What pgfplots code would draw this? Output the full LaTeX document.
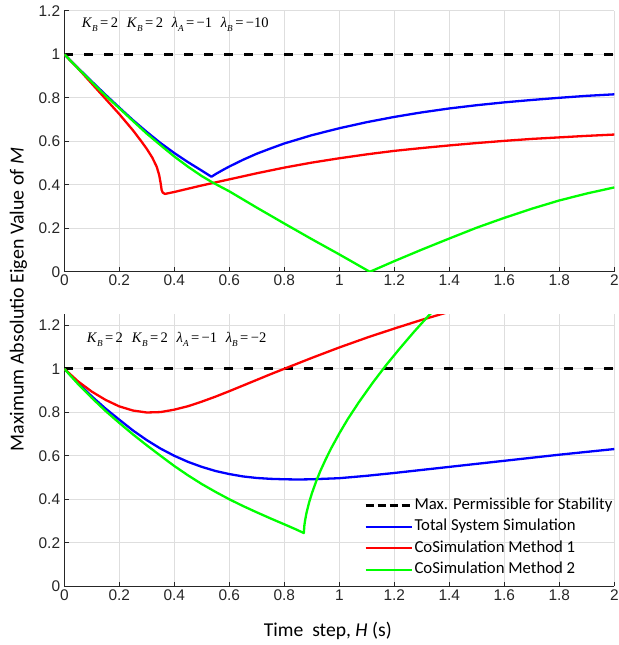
\documentclass[border=0pt]{standalone}
\usepackage{fontspec}
\setmainfont{Carlito}
\newfontfamily\arialf{Liberation Sans}
\newfontfamily\timesf{Liberation Serif}
\usepackage{pgfplots}
\pgfplotsset{compat=1.18}
\definecolor{gridc}{gray}{0.87}
\definecolor{axc}{gray}{0.15}
\definecolor{cblue}{rgb}{0,0,1}
\definecolor{cred}{rgb}{1,0,0}
\definecolor{cgreen}{rgb}{0,1,0}
\newcommand{\subx}[1]{\raisebox{-0.28em}{\fontsize{9.2}{10}\selectfont\itshape #1}}
\newcommand{\ann}[2]{{\timesf\fontsize{14.6}{16}\selectfont
 \textit{K}\subx{B}\,=\,2\hspace{0.6em}\textit{K}\subx{B}\,=\,2\hspace{0.6em}\textit{λ}\subx{A}\,=\,\textminus#1\hspace{0.6em}\textit{λ}\subx{B}\,=\,\textminus#2}}
\pgfplotsset{
 myax/.style={
  scale only axis, width=550bp,
  xmin=0, xmax=2,
  axis x line*=bottom, axis y line*=left,
  axis line style={axc, line width=0.7bp, -},
  tick align=inside,
  major tick length=4.5bp,
  tick style={axc, line width=0.7bp},
  grid=major, major grid style={gridc, line width=0.6bp},
  xtick={0,0.2,0.4,0.6,0.8,1,1.2,1.4,1.6,1.8,2},
  xticklabels={0,0.2,0.4,0.6,0.8,1,1.2,1.4,1.6,1.8,2},
  ytick={0,0.2,0.4,0.6,0.8,1,1.2},
  yticklabels={0,0.2,0.4,0.6,0.8,1,1.2},
  ticklabel style={font=\arialf\fontsize{15.5}{17}\selectfont, text=axc},
  xticklabel style={inner sep=3bp},
  yticklabel style={inner sep=4bp},
 },
 crv/.style={line width=2.3bp, line join=round},
 dsh/.style={black, line width=2.8bp, dash pattern=on 9bp off 11bp},
}
\begin{document}
\begin{tikzpicture}
\path[use as bounding box] (-64.3bp,-58.7bp) rectangle (554.7bp,586.3bp);
% ---------- top axis ----------
\begin{axis}[myax, at={(0bp,314.5bp)}, anchor=south west, height=261bp, ymin=0, ymax=1.2]
\addplot[dsh] coordinates {(0,1) (2,1)};
\addplot[crv, cblue] coordinates {
(0,1.0) (0.05,0.937) (0.1,0.875) (0.15,0.814) (0.2,0.755) (0.25,0.697) (0.3,0.643)
(0.35,0.592) (0.4,0.546) (0.45,0.504) (0.5,0.465) (0.535,0.437) (0.55,0.449) (0.575,0.467)
(0.6,0.484) (0.65,0.515) (0.7,0.543) (0.75,0.567) (0.8,0.59) (0.9,0.628) (1.0,0.66)
(1.1,0.688) (1.2,0.712) (1.3,0.733) (1.4,0.751) (1.5,0.766) (1.6,0.779) (1.7,0.79)
(1.8,0.8) (1.9,0.809) (2.0,0.816)};
\addplot[crv, cred] coordinates {
(0,1.0) (0.05,0.935) (0.1,0.865) (0.15,0.795) (0.2,0.725) (0.25,0.65) (0.28,0.6)
(0.3,0.565) (0.32,0.525) (0.336,0.483) (0.345,0.445) (0.35,0.41) (0.354,0.376)
(0.358,0.364) (0.366,0.358) (0.4,0.367) (0.5,0.397) (0.6,0.425) (0.7,0.453) (0.8,0.479)
(0.9,0.502) (1.0,0.522) (1.1,0.54) (1.2,0.556) (1.3,0.569) (1.4,0.581) (1.5,0.592)
(1.6,0.602) (1.7,0.611) (1.8,0.618) (1.9,0.625) (2.0,0.631)};
\addplot[crv, cgreen] coordinates {
(0,1.0) (0.05,0.935) (0.1,0.872) (0.15,0.81) (0.2,0.752) (0.25,0.693) (0.3,0.635)
(0.35,0.582) (0.4,0.53) (0.45,0.483) (0.5,0.44) (0.54,0.41) (0.6,0.37) (0.7,0.295)
(0.8,0.222) (0.9,0.15) (1.0,0.08) (1.111,0.0) (1.2,0.049) (1.3,0.102) (1.4,0.153)
(1.5,0.203) (1.6,0.248) (1.7,0.29) (1.8,0.328) (1.9,0.36) (2.0,0.388)};
\node[anchor=base west, inner sep=0] at (axis cs:0.063,1.124) {\ann{1}{10}};
\end{axis}
% ---------- bottom axis ----------
\begin{axis}[myax, at={(0bp,0bp)}, anchor=south west, height=271.9bp, ymin=0, ymax=1.25,
  legend style={draw=none, fill=none, at={(0.545,0.33)}, anchor=north west,
    font=\fontsize{16.8}{18}\selectfont, row sep=4.5bp, inner sep=0bp,
    nodes={inner sep=1.5bp, text height=11bp, text depth=3bp}},
  legend cell align=left,
  legend image code/.code={\draw[#1] (0bp,0bp) -- (46bp,0bp);}]
\addplot[dsh, forget plot] coordinates {(0,1) (2,1)};
\addlegendimage{black, line width=2.8bp, dash pattern=on 8bp off 4bp}
\addlegendentry{Max. Permissible for Stability}
\addplot[crv, cblue] coordinates {
(0,1.0) (0.05,0.935) (0.1,0.873) (0.15,0.817) (0.2,0.766) (0.25,0.716) (0.3,0.672)
(0.35,0.633) (0.4,0.6) (0.45,0.572) (0.5,0.549) (0.55,0.53) (0.6,0.516) (0.65,0.505)
(0.7,0.498) (0.75,0.494) (0.8,0.492) (0.85,0.491) (0.9,0.492) (1.0,0.497) (1.1,0.508)
(1.2,0.521) (1.3,0.535) (1.4,0.549) (1.5,0.563) (1.6,0.577) (1.7,0.591) (1.8,0.605)
(1.9,0.618) (2.0,0.631)};
\addlegendentry{Total System Simulation}
\addplot[crv, cred] coordinates {
(0,1.0) (0.05,0.942) (0.1,0.895) (0.15,0.857) (0.2,0.827) (0.25,0.808) (0.3,0.799)
(0.35,0.801) (0.4,0.812) (0.45,0.828) (0.5,0.849) (0.55,0.872) (0.6,0.897) (0.65,0.923)
(0.7,0.949) (0.75,0.975) (0.8,1.0) (0.9,1.05) (1.0,1.098) (1.1,1.143) (1.2,1.185)
(1.3,1.225) (1.4,1.262) (1.45,1.28)};
\addlegendentry{CoSimulation Method 1}
\addplot[crv, cgreen] coordinates {
(0,1.0) (0.05,0.93) (0.1,0.866) (0.15,0.806) (0.2,0.751) (0.25,0.698) (0.3,0.648)
(0.35,0.6) (0.4,0.553) (0.45,0.51) (0.5,0.47) (0.55,0.434) (0.6,0.4) (0.65,0.369)
(0.7,0.34) (0.75,0.312) (0.8,0.285) (0.84,0.263) (0.871,0.245)
(0.873,0.28) (0.876,0.306) (0.881,0.339) (0.891,0.389) (0.901,0.43) (0.916,0.483)
(0.931,0.53) (0.951,0.585) (0.971,0.636) (1.001,0.705) (1.031,0.769) (1.071,0.846)
(1.121,0.935) (1.171,1.018) (1.221,1.095) (1.271,1.169) (1.321,1.239) (1.351,1.279)};
\addlegendentry{CoSimulation Method 2}
\node[anchor=base west, inner sep=0] at (axis cs:0.081,1.123) {\ann{1}{2}};
\end{axis}
% ---------- shared labels ----------
\node[rotate=90, font=\fontsize{20}{24}\selectfont, text=black] at (-46bp,287bp)
  {Maximum Absolutio Eigen Value of \textit{M}};
\node[font=\fontsize{19.7}{22}\selectfont, text=black] at (263.5bp,-45bp)
  {Time\ \ step, \textit{H} (s)};
\end{tikzpicture}
\end{document}
